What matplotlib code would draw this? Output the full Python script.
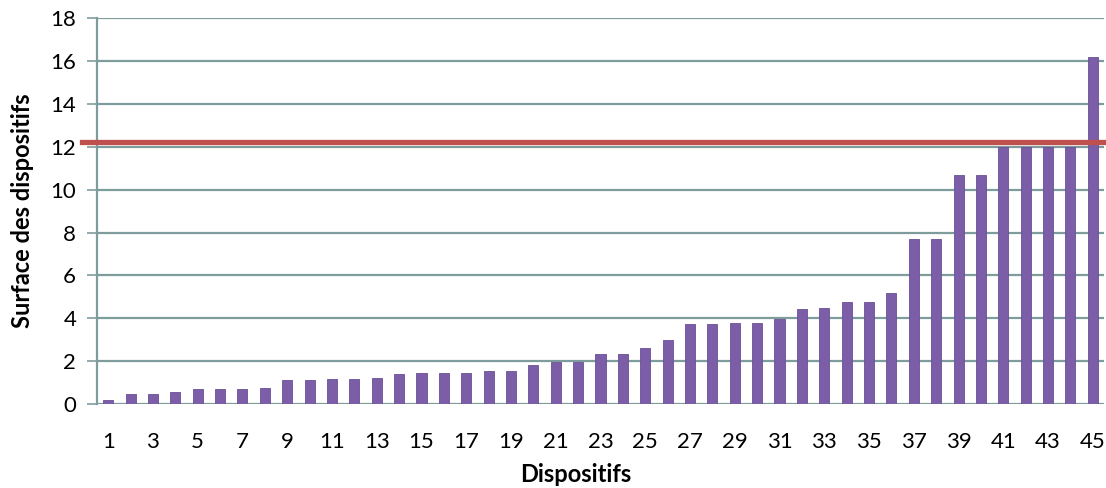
import matplotlib
matplotlib.use("Agg")
import matplotlib.pyplot as plt

dispositifs = list(range(1, 46))
surfaces = [0.2, 0.45, 0.45, 0.55, 0.7, 0.7, 0.7, 0.75, 1.1, 1.1,
            1.15, 1.15, 1.2, 1.4, 1.45, 1.45, 1.45, 1.55, 1.55, 1.8,
            1.95, 1.95, 2.35, 2.35, 2.6, 3.0, 3.75, 3.75, 3.8, 3.8,
            3.95, 4.45, 4.5, 4.75, 4.75, 5.2, 7.7, 7.7, 10.7, 10.7,
            12.0, 12.0, 12.0, 12.0, 16.2]
seuil = 12.2
yticks = list(range(0, 19, 2))
xticks = list(range(1, 46, 2))

plt.rcParams['font.family'] = ['Lato', 'DejaVu Sans']

fig = plt.figure(figsize=(11.06, 4.88), dpi=100)
ax = fig.add_axes([0.0877, 0.172, 0.9105, 0.791])

grid_c = '#7f9c9c'
for y in yticks:
    ax.axhline(y, color=grid_c, lw=1.6, zorder=1)

ax.bar(dispositifs, surfaces, width=0.45, color='#7B5EA7',
       edgecolor='#6a4f96', linewidth=0.6, zorder=2)

ax.axhline(seuil, xmin=-0.015, xmax=1.0, color='#C0504D', lw=3.8,
           zorder=3, clip_on=False)

ax.set_xlim(0.5, 45.5)
ax.set_ylim(0, 18)
ax.set_yticks(yticks)
ax.set_xticks(xticks)
ax.tick_params(axis='y', labelsize=16, length=7, color=grid_c, width=1.2, pad=8)
ax.tick_params(axis='x', labelsize=16, length=0, pad=20)
for s in ['top', 'right', 'bottom']:
    ax.spines[s].set_visible(False)
ax.spines['left'].set_color(grid_c)
ax.spines['left'].set_linewidth(1.6)

ax.set_xlabel('Dispositifs', fontsize=17, fontweight='bold')
ax.xaxis.set_label_coords(0.475, -0.152)
ax.set_ylabel('Surface des dispositifs', fontsize=17, fontweight='bold', labelpad=12)

fig.savefig('out.png', dpi=100)
